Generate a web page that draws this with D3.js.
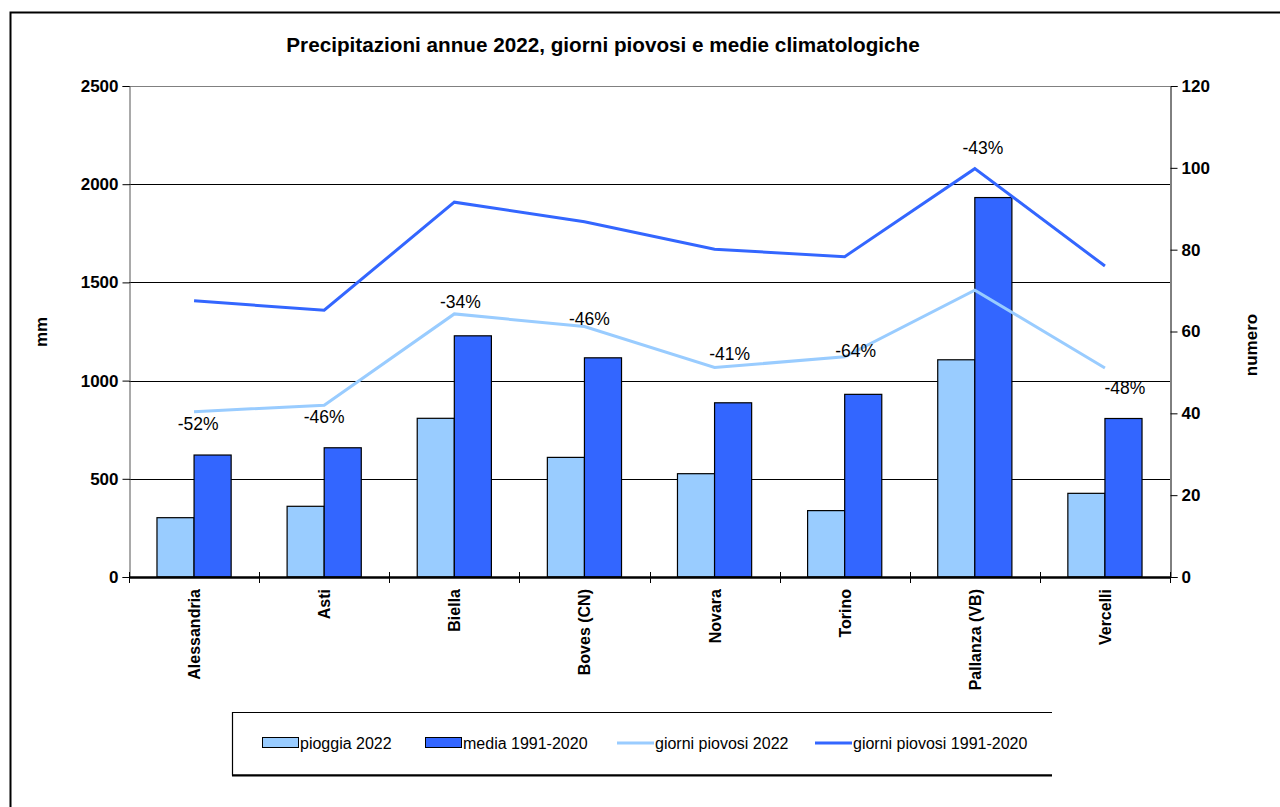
<!DOCTYPE html>
<html>
<head>
<meta charset="utf-8">
<script src="https://cdn.jsdelivr.net/npm/d3@7"></script>
<style>
  body { margin: 0; background: #fff; }
  svg { display: block; font-family: "Liberation Sans", Arial, sans-serif; }
</style>
</head>
<body>
<svg id="chart" width="1280" height="807"></svg>
<script>
"use strict";

// stations
var stations = ["Alessandria", "Asti", "Biella", "Boves (CN)", "Novara", "Torino", "Pallanza (VB)", "Vercelli"];

// mm (left axis)
var pioggia2022 = [302, 360, 808, 609, 526, 338, 1106, 426];
var media19912020 = [621, 658, 1228, 1116, 887, 930, 1932, 807];

// days (right axis)
var giorni2022 = [40.4, 42.0, 64.3, 61.2, 51.2, 53.8, 70.1, 51.1];
var giorni19912020 = [67.5, 65.2, 91.6, 86.8, 80.1, 78.3, 99.8, 76.0];

// deviation labels
var scarti = ["-52%", "-46%", "-34%", "-46%", "-41%", "-64%", "-43%", "-48%"];

var mmTicks = [0, 500, 1000, 1500, 2000, 2500];
var dayTicks = [0, 20, 40, 60, 80, 100, 120];

var lightBlue = "#99CCFF";
var darkBlue = "#3366FF";

var svg = d3.select("#chart");

// outer frame, runs off the right and bottom of the picture
svg.append("rect")
    .attr("x", 10.5).attr("y", 12.5)
    .attr("width", 1300).attr("height", 820)
    .attr("fill", "none").attr("stroke", "#000").attr("stroke-width", 2);

var plotLeft = 129, plotRight = 1170, plotTop = 86, plotBottom = 577;

var x0 = d3.scaleBand().domain(stations).range([plotLeft, plotRight]).paddingInner(0.43).paddingOuter(0.215);
var step = (plotRight - plotLeft) / stations.length;
var x1 = d3.scaleBand().domain(["p", "m"]).range([0, x0.bandwidth()]);
var yL = d3.scaleLinear().domain([0, 2500]).range([plotBottom, plotTop]);
var yR = d3.scaleLinear().domain([0, 120]).range([plotBottom, plotTop]);

function cx(d) { return x0(d) + x0.bandwidth() / 2; }

// title
svg.append("text")
    .attr("x", 603).attr("y", 52)
    .attr("text-anchor", "middle")
    .attr("font-weight", "bold").attr("font-size", 20.7)
    .text("Precipitazioni annue 2022, giorni piovosi e medie climatologiche");

// gridlines
svg.append("g").selectAll("line")
    .data(mmTicks.filter(function (d) { return d > 0; }))
    .enter().append("line")
    .attr("x1", plotLeft).attr("x2", plotRight)
    .attr("y1", function (d) { return Math.round(yL(d)) + 0.5; })
    .attr("y2", function (d) { return Math.round(yL(d)) + 0.5; })
    .attr("stroke", function (d) { return d === 2500 ? "#808080" : "#000"; })
    .attr("stroke-width", 1);

// bars
var groups = svg.append("g").selectAll("g")
    .data(stations)
    .enter().append("g")
    .attr("transform", function (d) { return "translate(" + x0(d) + ",0)"; });

groups.append("rect")
    .attr("x", x1("p"))
    .attr("y", function (d, i) { return yL(pioggia2022[i]); })
    .attr("width", x1.bandwidth())
    .attr("height", function (d, i) { return plotBottom - yL(pioggia2022[i]); })
    .attr("fill", lightBlue).attr("stroke", "#000").attr("stroke-width", 1.2);

groups.append("rect")
    .attr("x", x1("m"))
    .attr("y", function (d, i) { return yL(media19912020[i]); })
    .attr("width", x1.bandwidth())
    .attr("height", function (d, i) { return plotBottom - yL(media19912020[i]); })
    .attr("fill", darkBlue).attr("stroke", "#000").attr("stroke-width", 1.2);

// lines
var line = d3.line()
    .x(function (d) { return cx(d[0]); })
    .y(function (d) { return yR(d[1]); });

svg.append("path")
    .datum(d3.zip(stations, giorni2022))
    .attr("d", line)
    .attr("fill", "none").attr("stroke", lightBlue).attr("stroke-width", 3);

svg.append("path")
    .datum(d3.zip(stations, giorni19912020))
    .attr("d", line)
    .attr("fill", "none").attr("stroke", darkBlue).attr("stroke-width", 3);

// percent labels, nudged by hand off the 2022 line like in the original
var nudge = [[4, 12], [0, 12], [6, -12], [5, -8], [15, -14], [11, -6], [8, -142], [20, 20]];
svg.append("g").selectAll("text")
    .data(stations)
    .enter().append("text")
    .attr("x", function (d, i) { return cx(d) + nudge[i][0]; })
    .attr("y", function (d, i) { return yR(giorni2022[i]) + nudge[i][1] + 6; })
    .attr("text-anchor", "middle")
    .attr("font-size", 17.5)
    .text(function (d, i) { return scarti[i]; });

var fmt = d3.format("d");

// left axis
var axL = svg.append("g")
    .attr("transform", "translate(" + (plotLeft + 0.5) + ",0)")
    .call(d3.axisLeft(yL).tickValues(mmTicks).tickFormat(fmt).tickSize(7).tickPadding(4));
axL.select(".domain").attr("stroke", "#555");
axL.selectAll("text").attr("font-size", 17).attr("font-weight", "bold")
    .attr("font-family", "Liberation Sans, Arial, sans-serif").attr("fill", "#000");

// right axis
var axR = svg.append("g")
    .attr("transform", "translate(" + (plotRight + 0.5) + ",0)")
    .call(d3.axisRight(yR).tickValues(dayTicks).tickFormat(fmt).tickSize(7).tickPadding(4));
axR.selectAll("text").attr("font-size", 17).attr("font-weight", "bold")
    .attr("font-family", "Liberation Sans, Arial, sans-serif").attr("fill", "#000");

// bottom axis: ticks on category boundaries
var bounds = d3.range(stations.length + 1).map(function (i) { return plotLeft + i * step; });
svg.append("g").selectAll("line")
    .data(bounds)
    .enter().append("line")
    .attr("x1", function (d) { return Math.round(d) + 0.5; })
    .attr("x2", function (d) { return Math.round(d) + 0.5; })
    .attr("y1", plotBottom - 5).attr("y2", plotBottom + 6)
    .attr("stroke", "#000");
svg.append("line")
    .attr("x1", plotLeft).attr("x2", plotRight + 1)
    .attr("y1", plotBottom + 0.5).attr("y2", plotBottom + 0.5)
    .attr("stroke", "#000").attr("stroke-width", 2.5);

svg.append("g").selectAll("text")
    .data(stations)
    .enter().append("text")
    .attr("transform", function (d) { return "translate(" + (cx(d) + 6) + "," + (plotBottom + 12) + ") rotate(-90)"; })
    .attr("text-anchor", "end")
    .attr("font-size", 16).attr("font-weight", "bold")
    .text(function (d) { return d; });

// axis titles
svg.append("text")
    .attr("transform", "translate(47,332) rotate(-90)")
    .attr("text-anchor", "middle")
    .attr("font-size", 17).attr("font-weight", "bold")
    .text("mm");
svg.append("text")
    .attr("transform", "translate(1257,345) rotate(-90)")
    .attr("text-anchor", "middle")
    .attr("font-size", 17).attr("font-weight", "bold")
    .text("numero");

// legend
svg.append("path")
    .attr("d", "M1052,712.5H232.5V775H1052")
    .attr("fill", "none").attr("stroke", "#000").attr("stroke-width", 1.2);
svg.append("line")
    .attr("x1", 232).attr("x2", 1052).attr("y1", 775.5).attr("y2", 775.5)
    .attr("stroke", "#000").attr("stroke-width", 2);

var legendItems = [
    { label: "pioggia 2022", kind: "bar", color: lightBlue, x: 262 },
    { label: "media 1991-2020", kind: "bar", color: darkBlue, x: 425 },
    { label: "giorni piovosi 2022", kind: "line", color: lightBlue, x: 617 },
    { label: "giorni piovosi 1991-2020", kind: "line", color: darkBlue, x: 815 }
];
var lg = svg.append("g").selectAll("g")
    .data(legendItems)
    .enter().append("g")
    .attr("transform", function (d) { return "translate(" + d.x + ",743)"; });
lg.filter(function (d) { return d.kind === "bar"; })
    .append("rect")
    .attr("x", 0.5).attr("y", -5.5).attr("width", 36).attr("height", 10)
    .attr("fill", function (d) { return d.color; })
    .attr("stroke", "#000").attr("stroke-width", 1);
lg.filter(function (d) { return d.kind === "line"; })
    .append("line")
    .attr("x1", 0).attr("x2", 37).attr("y1", 0).attr("y2", 0)
    .attr("stroke", function (d) { return d.color; }).attr("stroke-width", 3);
lg.append("text")
    .attr("x", 38).attr("y", 6)
    .attr("font-size", 16)
    .text(function (d) { return d.label; });
</script>
</body>
</html>
